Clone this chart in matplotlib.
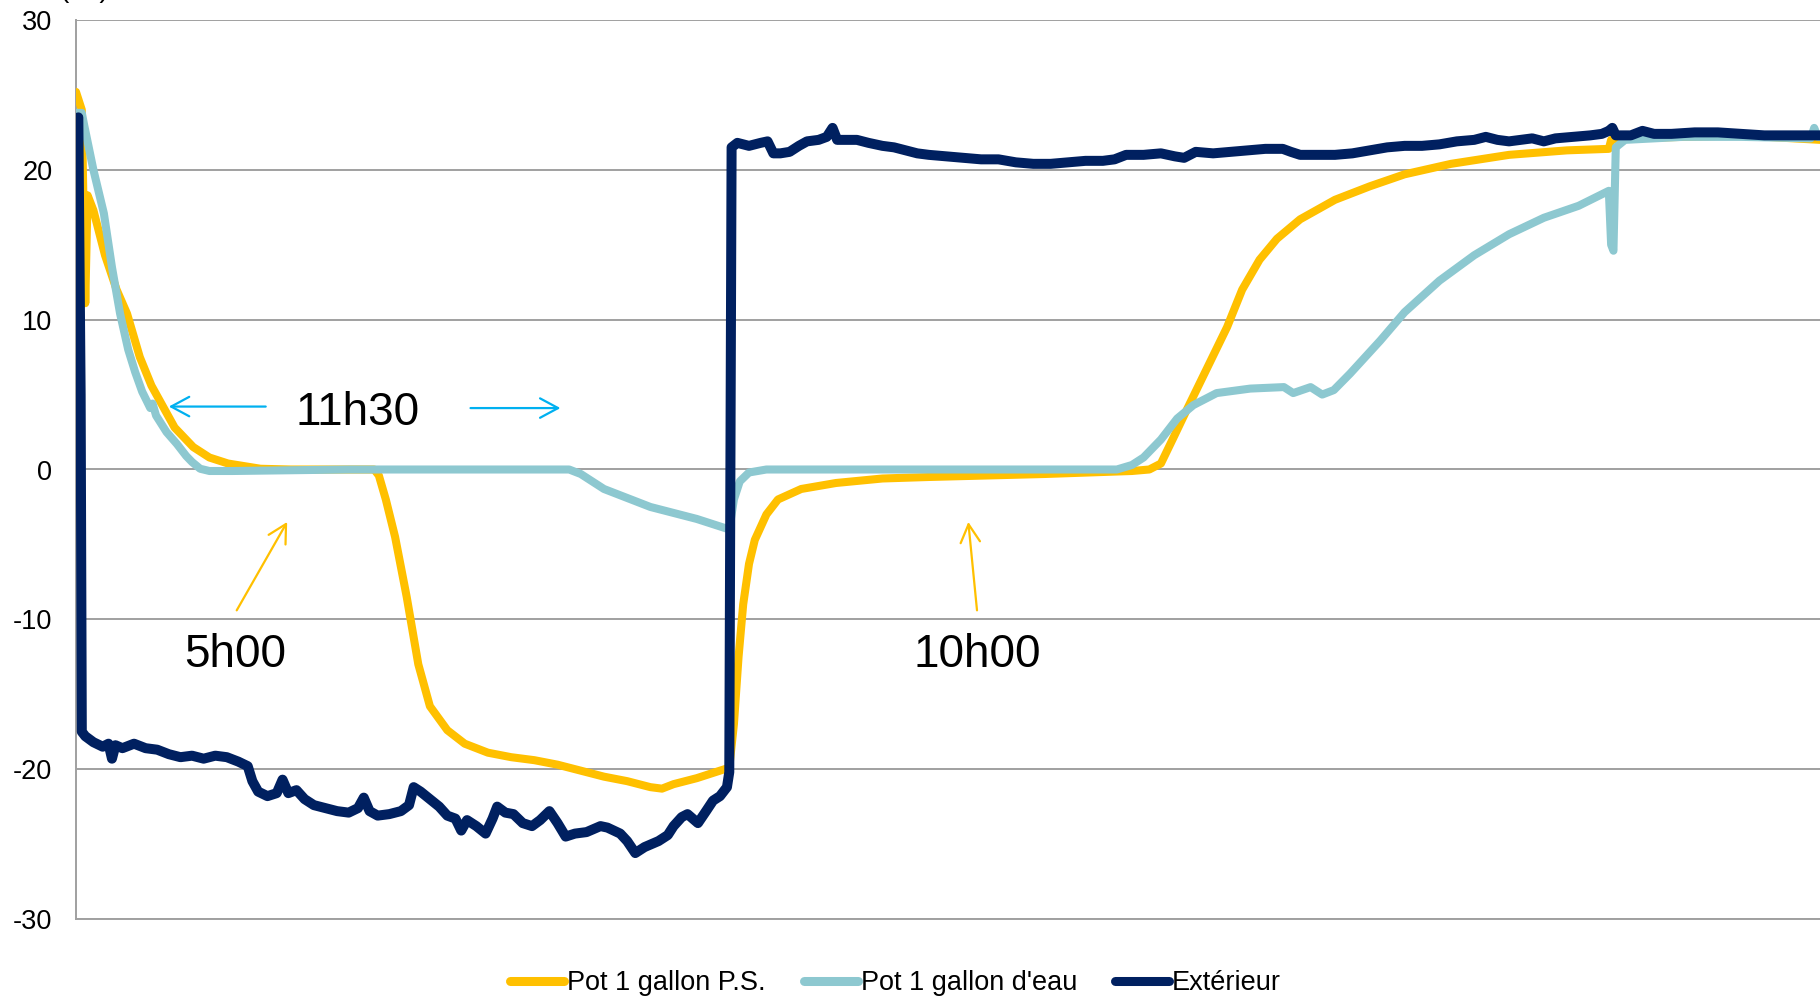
import matplotlib
matplotlib.use("Agg")
import matplotlib.pyplot as plt

plt.rcParams['font.family'] = ['Liberation Sans', 'DejaVu Sans']
plt.rcParams['axes.unicode_minus'] = False

# time in minutes since the start of the run, temperatures in degrees C
ps_t = [0, 10, 16, 20, 30, 50, 70, 88, 110, 130, 150, 170, 202, 230, 262, 318, 370,
        514, 522, 534, 550, 570, 590, 610, 640, 670, 710, 750, 790, 830, 870, 910,
        950, 990, 1010, 1030, 1070, 1110, 1126, 1134, 1142, 1150, 1160, 1170, 1190,
        1210, 1250, 1310, 1390, 1470, 1670, 1820, 1850, 1870, 1890, 1916, 1950, 1984,
        2010, 2040, 2070, 2110, 2170, 2230, 2290, 2370, 2470, 2570, 2642, 2646, 2670,
        2770, 2870, 3006]
ps_v = [25.2, 24.0, 11.1, 18.3, 17.3, 14.3, 12.0, 10.4, 7.5, 5.6, 4.2, 2.8, 1.5, 0.8,
        0.4, 0.05, 0.0,
        0.0, -0.4, -2.0, -4.5, -8.5, -13.0, -15.8, -17.4, -18.3, -18.9, -19.2, -19.4,
        -19.7, -20.1, -20.5, -20.8, -21.2, -21.3, -21.0, -20.6, -20.1, -19.9, -17.0,
        -12.5, -9.0, -6.3, -4.7, -3.0,
        -2.0, -1.3, -0.9, -0.6, -0.5, -0.3, -0.1, 0.0, 0.4, 2.0, 4.1, 6.8, 9.5,
        12.0, 14.0, 15.4, 16.7, 18.0, 18.9, 19.7, 20.4, 21.0, 21.3, 21.4, 22.0, 22.1,
        22.2, 22.3, 22.0]

eau_t = [0, 10, 14, 30, 48, 62, 76, 90, 102, 114, 128, 132, 138, 156, 174, 190, 200,
         214, 230, 270, 470, 850, 870, 890, 910, 950, 990, 1030, 1070, 1110, 1126,
         1134, 1144, 1160, 1190, 1794, 1820, 1840, 1870, 1898, 1926, 1966, 2024,
         2082, 2098, 2128, 2148, 2168, 2196, 2248, 2290, 2350, 2410, 2470, 2530,
         2590, 2642, 2646, 2650, 2654, 2670, 2770, 2870, 2990, 2996, 3002, 3006]
eau_v = [23.8, 23.8, 23.0, 20.0, 17.1, 13.5, 10.4, 8.0, 6.5, 5.2, 4.1, 4.4, 3.6, 2.5,
         1.7, 0.9, 0.5,
         0.05, -0.1, -0.1, 0.0, 0.0, -0.3, -0.8, -1.3, -1.9, -2.5, -2.9, -3.3, -3.8,
         -4.0,
         -2.0, -0.8, -0.2, 0.0, 0.0, 0.3, 0.8, 2.0, 3.4, 4.3, 5.1, 5.4,
         5.5, 5.1, 5.5, 5.0, 5.3, 6.4, 8.6, 10.5, 12.6, 14.3, 15.7, 16.8,
         17.6, 18.6, 15.0, 14.6, 21.5, 22.0, 22.2, 22.2, 22.1, 22.8, 22.2, 22.2]

ext_t = [0, 4, 8, 10, 16, 30, 46, 56, 62, 68, 80, 100, 120, 140, 160, 180, 200, 220,
         240, 260, 280, 296, 304, 314, 330, 346, 356, 366, 380, 394, 410, 430, 450,
         470, 486, 496, 506, 520, 540, 560, 574, 582, 594, 610, 626, 640, 654, 664,
         674, 690, 706, 718, 726, 740, 754, 770, 786, 800, 816, 830, 844, 860, 880,
         904, 916, 938, 950, 964, 980, 1004, 1020, 1030, 1044, 1054, 1072, 1086, 1098,
         1110, 1122, 1126, 1130, 1140, 1160, 1180, 1192, 1202, 1214, 1230, 1246, 1260,
         1280, 1294, 1304, 1312, 1330, 1346, 1366, 1390, 1410, 1430, 1450, 1470, 1500,
         1530, 1560, 1590, 1620, 1650, 1680, 1710, 1740, 1770, 1790, 1810, 1840, 1870,
         1894, 1910, 1930, 1960, 1990, 2020, 2050, 2080, 2094, 2110, 2140, 2170, 2200,
         2230, 2260, 2290, 2320, 2350, 2380, 2410, 2430, 2450, 2470, 2490, 2510, 2530,
         2550, 2580, 2610, 2630, 2642, 2648, 2654, 2680, 2700, 2720, 2750, 2790, 2830,
         2870, 2910, 2950, 3006]
ext_v = [23.0, 23.5, 5.0, -17.5, -17.8, -18.2, -18.5, -18.3, -19.3, -18.4, -18.6,
         -18.3, -18.6, -18.7, -19.0, -19.2, -19.1, -19.3,
         -19.1, -19.2, -19.5, -19.8, -20.8, -21.5, -21.8, -21.6, -20.7, -21.6, -21.4,
         -22.0, -22.4, -22.6, -22.8,
         -22.9, -22.6, -21.9, -22.8, -23.1, -23.0, -22.8, -22.4, -21.2, -21.5, -22.0,
         -22.5, -23.1, -23.3, -24.1,
         -23.4, -23.8, -24.3, -23.3, -22.5, -22.9, -23.0, -23.6, -23.8, -23.4, -22.8,
         -23.6, -24.5, -24.3, -24.2,
         -23.8, -23.9, -24.3, -24.8, -25.6, -25.2, -24.8, -24.4, -23.8, -23.2, -23.0,
         -23.6, -22.8, -22.1,
         -21.8, -21.2, -20.2, 21.5, 21.8, 21.6, 21.8, 21.9, 21.1, 21.1, 21.2, 21.6,
         21.9,
         22.0, 22.2, 22.8, 22.0, 22.0, 22.0, 21.8, 21.6, 21.5, 21.3, 21.1, 21.0, 20.9,
         20.8, 20.7, 20.7, 20.5, 20.4, 20.4, 20.5, 20.6, 20.6, 20.7, 21.0, 21.0, 21.1,
         20.9, 20.8, 21.2, 21.1, 21.2, 21.3, 21.4, 21.4, 21.2, 21.0, 21.0, 21.0, 21.1,
         21.3, 21.5, 21.6, 21.6, 21.7, 21.9, 22.0, 22.2, 22.0, 21.9, 22.0, 22.1, 21.9,
         22.1, 22.2, 22.3, 22.4, 22.6, 22.8, 22.3, 22.3, 22.6, 22.4, 22.4, 22.5, 22.5,
         22.4, 22.3, 22.3, 22.3]

series_names = ["Pot 1 gallon P.S.", "Pot 1 gallon d'eau", "Extérieur"]
yticks = [-30, -20, -10, 0, 10, 20, 30]

YELLOW = '#FFC000'
TEAL = '#8DC8D0'
NAVY = '#002060'
CYAN = '#00B0F0'

fig = plt.figure(figsize=(18.2, 9.97), dpi=100)
ax = fig.add_axes([76 / 1820, 1 - 919 / 997, 1 - 76 / 1820, (919 - 20) / 997])

ax.plot(ps_t, ps_v, color=YELLOW, lw=5.8, solid_joinstyle='round',
        solid_capstyle='round', label=series_names[0], zorder=3)
ax.plot(eau_t, eau_v, color=TEAL, lw=5.8, solid_joinstyle='round',
        solid_capstyle='round', label=series_names[1], zorder=4)
ax.plot(ext_t, ext_v, color=NAVY, lw=7.2, solid_joinstyle='round',
        solid_capstyle='round', label=series_names[2], zorder=5)

ax.set_xlim(0, 3006)
ax.set_ylim(-30, 30)
ax.set_yticks(yticks)
ax.set_xticks([])
ax.tick_params(axis='y', length=0, pad=17, labelsize=19.5)
ax.yaxis.grid(True, color='#A0A0A0', lw=1.4, zorder=1)
ax.set_axisbelow(True)
for side in ['top', 'right']:
    ax.spines[side].set_visible(False)
for side in ['left', 'bottom']:
    ax.spines[side].set_color('#A0A0A0')
    ax.spines[side].set_linewidth(1.4)

# duration markers
def arrow(tail, head, color):
    ax.annotate('', xy=head, xytext=tail,
                arrowprops=dict(arrowstyle='->,head_length=0.65,head_width=0.35',
                                color=color, lw=1.6, mutation_scale=20,
                                shrinkA=0, shrinkB=0), zorder=6)

arrow((327, 4.2), (160, 4.2), CYAN)
arrow((680, 4.1), (835, 4.1), CYAN)
ax.text(485, 3.8, "11h30", fontsize=33, ha='center', va='center', zorder=6)

arrow((277, -9.4), (364, -3.5), YELLOW)
ax.text(275, -12.4, "5h00", fontsize=33, ha='center', va='center', zorder=6)

arrow((1553, -9.4), (1538, -3.5), YELLOW)
ax.text(1553, -12.4, "10h00", fontsize=33, ha='center', va='center', zorder=6)

# unit label, mostly above the top edge
fig.text(84 / 1820, 1 + 3 / 997, "(°C)", fontsize=20, ha='center', va='baseline')

leg = fig.legend(loc='center', bbox_to_anchor=(0.492, 0.014), ncol=3, frameon=False,
                 fontsize=19.5, handlelength=2.0, handletextpad=0.1,
                 columnspacing=1.4, borderpad=0)
for line in leg.get_lines():
    line.set_linewidth(6.5)
    line.set_solid_capstyle('round')

fig.savefig('out.png', dpi=100)
